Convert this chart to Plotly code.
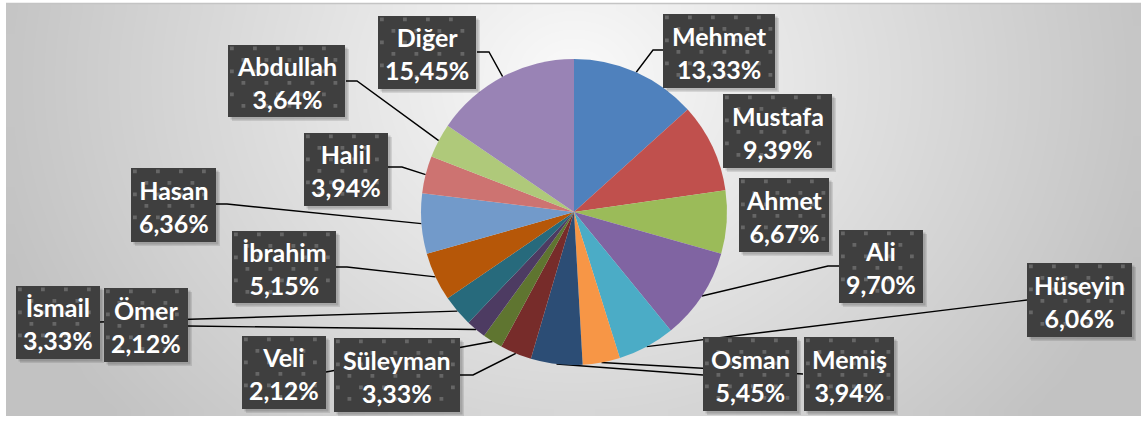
import numpy as np
import plotly.graph_objects as go

# ---------------- data ----------------
names = ["Mehmet", "Mustafa", "Ahmet", "Ali", "Hüseyin", "Memiş", "Osman", "Süleyman",
         "Veli", "Ömer", "İsmail", "İbrahim", "Hasan", "Halil", "Abdullah", "Diğer"]
shares = [13.33, 9.39, 6.67, 9.70, 6.06, 3.94, 5.45, 3.33,
          2.12, 2.12, 3.33, 5.15, 6.36, 3.94, 3.64, 15.45]

# ---------------- styling / layout ----------------
colors = ["#4F81BD", "#C0504D", "#9BBB59", "#8064A2", "#4BACC6", "#F79646", "#2C4D75", "#772C2A",
          "#5F7530", "#4D3B62", "#276A7C", "#B65708", "#729ACA", "#CD7371", "#AFC97A", "#9983B5"]

W, H = 1141, 421
CX, CY, R = 574, 212, 153          # pie centre / radius in pixels

# label boxes (x0, y0, x1, y1) in pixels
boxes = {
    "Mehmet": (663, 14, 775, 88),
    "Mustafa": (723, 94, 832, 168),
    "Ahmet": (739, 178, 829, 252),
    "Ali": (839, 230, 923, 303),
    "Hüseyin": (1027, 263, 1132, 337),
    "Memiş": (804, 337, 894, 411),
    "Osman": (703, 337, 797, 411),
    "Süleyman": (334, 338, 460, 412),
    "Veli": (242, 336, 326, 409),
    "Ömer": (104, 288, 188, 362),
    "İsmail": (16, 286, 100, 359),
    "İbrahim": (232, 231, 336, 303),
    "Hasan": (131, 168, 216, 242),
    "Halil": (304, 133, 388, 206),
    "Abdullah": (228, 45, 345, 117),
    "Diğer": (378, 16, 476, 89),
}
# leader line points on the label side (box attach point, then optional elbow)
leaders = {
    "Mehmet": [(663, 50), (653, 50)],
    "Diğer": [(477, 52), (489, 52)],
    "Abdullah": [(346, 81), (357, 81)],
    "Halil": [(388, 167), (402, 167)],
    "Hasan": [(216, 204), (227, 204)],
    "İbrahim": [(336, 267), (347, 267)],
    "İsmail": [(100, 322)],
    "Ömer": [(188, 326)],
    "Veli": [(326, 372)],
    "Süleyman": [(460, 375), (473, 375)],
    "Osman": [(703, 375)],
    "Memiş": [(803, 374)],
    "Hüseyin": [(1027, 300)],
    "Ali": [(839, 266), (828, 266)],
}

fig = go.Figure()

# ---- background radial gradient ----
nx, ny = 70, 30
x0b, x1b, y0b, y1b = 6, W, 3, 416
dxb = (x1b - x0b) / nx
dyb = (y1b - y0b) / ny
gx = x0b + dxb * (np.arange(nx) + 0.5)
gy = y0b + dyb * (np.arange(ny) + 0.5)
GX, GY = np.meshgrid(gx, gy)
D = np.sqrt(((GX - 574) / 600) ** 2 + ((GY - 80) / 520) ** 2)
D = np.clip(D, 0, 1)
fig.add_trace(go.Heatmap(x=gx, y=gy, z=D, zmin=0, zmax=1, zsmooth="best",
                         colorscale=[[0, "rgb(250,250,250)"], [1, "rgb(194,194,194)"]],
                         showscale=False, hoverinfo="skip"))

# ---- leader lines (pie-side point computed from the slice mid-angle) ----
total = sum(shares)
cum = np.cumsum([0] + shares[:-1])
lx, ly = [], []
for name, v, c0 in zip(names, shares, cum):
    if name not in leaders:
        continue
    ang = np.deg2rad((c0 + v / 2) / total * 360)
    sx = CX + R * np.sin(ang)
    sy = CY - R * np.cos(ang)
    pts = [(sx, sy)] + leaders[name][::-1]
    for p in pts:
        lx.append(p[0]); ly.append(p[1])
    lx.append(None); ly.append(None)
fig.add_trace(go.Scatter(x=lx, y=ly, mode="lines", line=dict(color="black", width=1.4),
                         hoverinfo="skip", showlegend=False))

# ---- pie ----
fig.add_trace(go.Pie(labels=names, values=shares, sort=False, direction="clockwise", rotation=0,
                     marker=dict(colors=colors, line=dict(width=0)), textinfo="none",
                     hoverinfo="label+percent", showlegend=False,
                     domain=dict(x=[(CX - R) / W, (CX + R) / W],
                                 y=[(H - CY - R) / H, (H - CY + R) / H])))

# ---- label boxes ----
shapes = [dict(type="line", xref="x", yref="y", x0=6, x1=W, y0=3.5, y1=3.5,
               line=dict(color="#c4c4c4", width=1.5), layer="above")]
annotations = []


def pattern_path(x0, y0, x1, y1, s=11.5, q=3.8):
    parts = []
    j = 0
    y = y0 + 1.5
    while y + q <= y1 - 0.5:
        x = x0 + 2 + (j % 2) * s
        while x + q <= x1 - 0.5:
            parts.append(f"M{x:.1f},{y:.1f}H{x+q:.1f}V{y+q:.1f}H{x:.1f}Z")
            x += 2 * s
        y += s
        j += 1
    return "".join(parts)


for name, v in zip(names, shares):
    bx0, by0, bx1, by1 = boxes[name]
    for off, a in ((4, 0.10), (2.5, 0.14)):
        shapes.append(dict(type="rect", xref="x", yref="y", x0=bx0 + off, x1=bx1 + off,
                           y0=by0 + off, y1=by1 + off, fillcolor=f"rgba(0,0,0,{a})",
                           line=dict(width=0), layer="above"))
    shapes.append(dict(type="rect", xref="x", yref="y", x0=bx0, x1=bx1, y0=by0, y1=by1,
                       fillcolor="#3f3f3f", line=dict(width=0), layer="above"))
    shapes.append(dict(type="path", xref="x", yref="y", path=pattern_path(bx0, by0, bx1, by1),
                       fillcolor="#666666", line=dict(width=0), layer="above"))
    pct = f"{v:.2f}".replace(".", ",") + "%"
    annotations.append(dict(x=(bx0 + bx1) / 2, y=(by0 + by1) / 2 + 1, xref="x", yref="y",
                            text=f"{name}<br>{pct}", showarrow=False,
                            xanchor="center", yanchor="middle", align="center",
                            font=dict(family="Lato", size=25, color="white", weight="bold")))

fig.update_layout(
    width=W, height=H, margin=dict(l=0, r=0, t=0, b=0),
    paper_bgcolor="white", plot_bgcolor="white",
    xaxis=dict(range=[0, W], visible=False, fixedrange=True, domain=[0, 1]),
    yaxis=dict(range=[H, 0], visible=False, fixedrange=True, domain=[0, 1]),
    shapes=shapes, annotations=annotations, showlegend=False,
)

fig.write_html("out.html", config={"displayModeBar": False},
               post_script="document.body.style.margin='0';document.body.style.overflow='hidden';")
